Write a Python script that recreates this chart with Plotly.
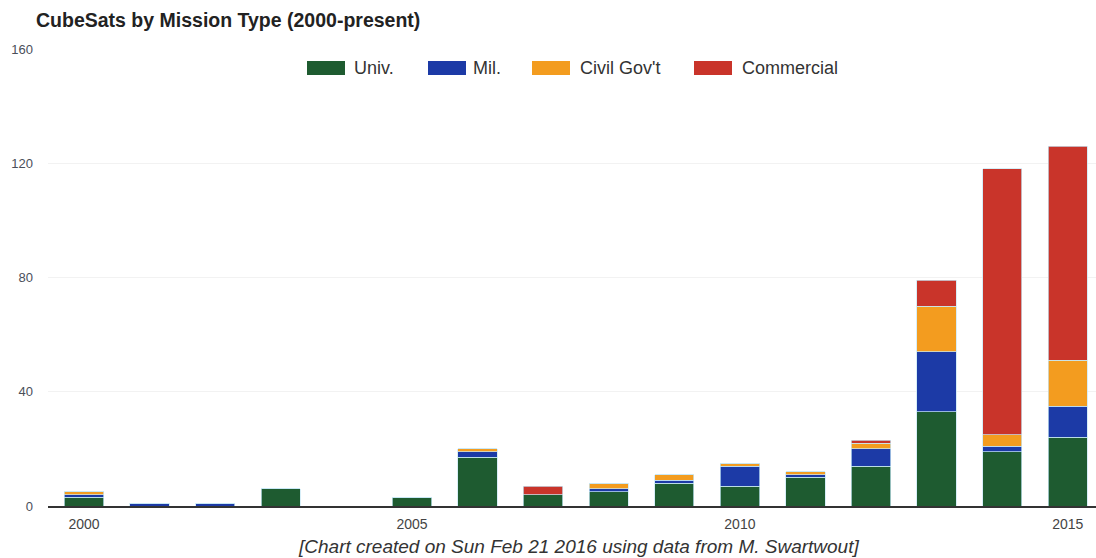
import plotly.graph_objects as go

# CubeSat launches per year, stacked by mission type
years = list(range(2000, 2016))
univ = [3, 0, 0, 6, 0, 3, 17, 4, 5, 8, 7, 10, 14, 33, 19, 24]
mil = [1, 1, 1, 0, 0, 0, 2, 0, 1, 1, 7, 1, 6, 21, 2, 11]
civil = [1, 0, 0, 0, 0, 0, 1, 0, 2, 2, 1, 1, 2, 16, 4, 16]
commercial = [0, 0, 0, 0, 0, 0, 0, 3, 0, 0, 0, 0, 1, 9, 93, 75]

series_names = ["Univ.", "Mil.", "Civil Gov't", "Commercial"]
series_values = [univ, mil, civil, commercial]
series_colors = ["#1e5b30", "#1c3aa6", "#f39c1f", "#c9342a"]

y_ticks = [0, 40, 80, 120, 160]
x_ticks = [2000, 2005, 2010, 2015]

W, H = 1096, 558
L, R, T, B = 48, 0, 49, 52
FONT = "Arial, Liberation Sans, sans-serif"

fig = go.Figure()
for name, vals, col in zip(series_names, series_values, series_colors):
    fig.add_trace(go.Bar(
        x=years, y=vals, name=name,
        marker=dict(color=col, line=dict(color="rgba(200,232,245,0.9)", width=0.8)),
        showlegend=False,
    ))

# hand-placed legend row (wide swatches) above the bars
plot_w = W - L - R
plot_h = H - T - B


def px_x(px):
    return (px - L) / plot_w


def px_y(py):
    return (H - B - py) / plot_h


swatch_x = [307, 428, 532, 694]
label_x = [352, 471, 578, 740]
legend_y = 68
for sx, lx, name, col in zip(swatch_x, label_x, series_names, series_colors):
    fig.add_shape(type="rect", xref="paper", yref="paper",
                  x0=px_x(sx), x1=px_x(sx + 38),
                  y0=px_y(legend_y + 7), y1=px_y(legend_y - 7),
                  fillcolor=col, line=dict(width=0))
    fig.add_annotation(xref="paper", yref="paper", x=px_x(lx), y=px_y(legend_y),
                       xanchor="left", yanchor="middle", showarrow=False,
                       text=name, font=dict(family=FONT, size=18, color="#333333"))

# chart title
fig.add_annotation(xref="paper", yref="paper", x=px_x(34), y=px_y(20),
                   xanchor="left", yanchor="middle", showarrow=False,
                   text="<b>CubeSats by Mission Type (2000-present)</b>",
                   font=dict(family=FONT, size=19.5, color="#222222"))

# source note under the axis
fig.add_annotation(xref="paper", yref="paper", x=px_x(578), y=px_y(546),
                   xanchor="center", yanchor="middle", showarrow=False,
                   text="<i>[Chart created on Sun Feb 21 2016 using data from M. Swartwout]</i>",
                   font=dict(family=FONT, size=19, color="#333333"))

fig.update_layout(
    width=W, height=H,
    margin=dict(l=L, r=R, t=T, b=B, autoexpand=False),
    paper_bgcolor="white", plot_bgcolor="white",
    barmode="stack", bargap=0.4,
    xaxis=dict(range=[1999.45, 2015.43], tickvals=x_ticks, ticktext=[str(t) for t in x_ticks],
               showgrid=False, zeroline=False, showline=True, linecolor="#333333", linewidth=1.5,
               ticks="", ticklabelstandoff=4, automargin=False,
               tickfont=dict(family=FONT, size=14, color="#444444")),
    yaxis=dict(range=[0, 160], tickvals=y_ticks, showgrid=True, gridcolor="#f2f2f2",
               zeroline=False, showline=False, ticks="", ticklabelstandoff=14, automargin=False,
               tickfont=dict(family=FONT, size=13, color="#4a4f5a")),
)

fig.write_html("out.html")
